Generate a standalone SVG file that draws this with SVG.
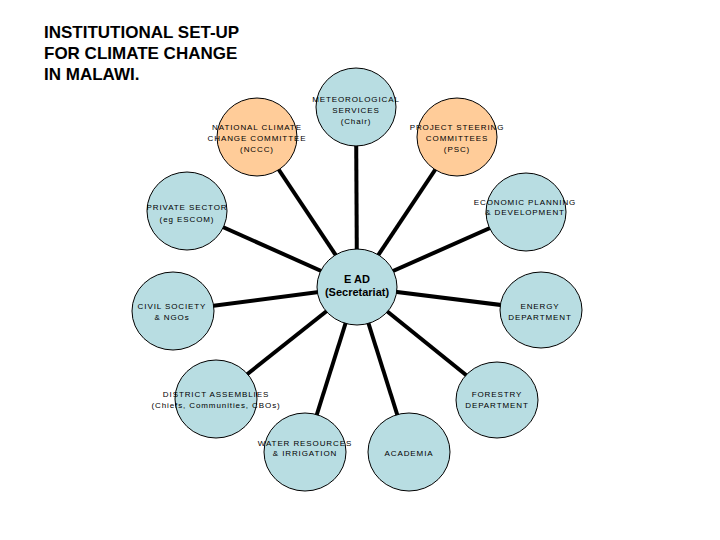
<svg xmlns="http://www.w3.org/2000/svg" width="720" height="540" viewBox="0 0 720 540">
<style>
.n{fill:#B8DDE2;stroke:#000;stroke-width:1}
.o{fill:#FFCC99;stroke:#000;stroke-width:1}
.t{font-family:"Liberation Sans",Arial,sans-serif;font-size:8px;letter-spacing:0.9px;text-anchor:middle;fill:#000}
.b{font-family:"Liberation Sans",Arial,sans-serif;font-weight:bold;font-size:11px;text-anchor:middle;fill:#000}
.h{font-family:"Liberation Sans",Arial,sans-serif;font-weight:bold;font-size:17px;fill:#000}
.c{stroke:#000;stroke-width:4;fill:none}
</style>
<rect width="720" height="540" fill="#fff"/>
<g id="title">
<text class="h" x="44" y="38">INSTITUTIONAL SET-UP</text>
<text class="h" x="44" y="59">FOR CLIMATE CHANGE</text>
<text class="h" x="44" y="80">IN MALAWI.</text>
</g>
<g id="connectors">
<line class="c" x1="357" y1="287" x2="356" y2="107"/>
<line class="c" x1="357" y1="287" x2="257" y2="137"/>
<line class="c" x1="357" y1="287" x2="457" y2="137"/>
<line class="c" x1="357" y1="287" x2="187" y2="211"/>
<line class="c" x1="357" y1="287" x2="526" y2="212"/>
<line class="c" x1="357" y1="287" x2="173" y2="311"/>
<line class="c" x1="357" y1="287" x2="541" y2="310"/>
<line class="c" x1="357" y1="287" x2="216" y2="399"/>
<line class="c" x1="357" y1="287" x2="497" y2="400"/>
<line class="c" x1="357" y1="287" x2="305" y2="452"/>
<line class="c" x1="357" y1="287" x2="409" y2="452"/>
</g>
<g id="met">
<ellipse class="n" cx="356" cy="107" rx="40" ry="39"/>
<text class="t" x="356" y="102">METEOROLOGICAL</text>
<text class="t" x="356" y="113">SERVICES</text>
<text class="t" x="356" y="124">(Chair)</text>
</g>
<g id="nccc">
<ellipse class="o" cx="257" cy="137" rx="40" ry="39"/>
<text class="t" x="257" y="130">NATIONAL CLIMATE</text>
<text class="t" x="257" y="141">CHANGE COMMITTEE</text>
<text class="t" x="257" y="152">(NCCC)</text>
</g>
<g id="psc">
<ellipse class="o" cx="457" cy="137" rx="40" ry="39"/>
<text class="t" x="457" y="130">PROJECT STEERING</text>
<text class="t" x="457" y="141">COMMITTEES</text>
<text class="t" x="457" y="152">(PSC)</text>
</g>
<g id="private">
<ellipse class="n" cx="187" cy="211" rx="40" ry="39"/>
<text class="t" x="187" y="210">PRIVATE SECTOR</text>
<text class="t" x="187" y="222">(eg ESCOM)</text>
</g>
<g id="econ">
<ellipse class="n" cx="526" cy="212" rx="40" ry="39"/>
<text class="t" x="525" y="205">ECONOMIC PLANNING</text>
<text class="t" x="525" y="215">&amp; DEVELOPMENT</text>
</g>
<g id="ead">
<ellipse class="n" cx="357" cy="287" rx="40" ry="38"/>
<text class="b" x="357" y="283">E AD</text>
<text class="b" x="357" y="296">(Secretariat)</text>
</g>
<g id="civil">
<ellipse class="n" cx="173" cy="311" rx="41" ry="39"/>
<text class="t" x="172" y="309">CIVIL SOCIETY</text>
<text class="t" x="172" y="320">&amp; NGOs</text>
</g>
<g id="energy">
<ellipse class="n" cx="541" cy="310" rx="41" ry="38"/>
<text class="t" x="540" y="309">ENERGY</text>
<text class="t" x="540" y="320">DEPARTMENT</text>
</g>
<g id="district">
<ellipse class="n" cx="216" cy="399" rx="41" ry="39"/>
<text class="t" x="216" y="397">DISTRICT ASSEMBLIES</text>
<text class="t" x="216" y="408">(Chiefs, Communities, CBOs)</text>
</g>
<g id="forestry">
<ellipse class="n" cx="497" cy="400" rx="41" ry="38"/>
<text class="t" x="497" y="397">FORESTRY</text>
<text class="t" x="497" y="408">DEPARTMENT</text>
</g>
<g id="water">
<ellipse class="n" cx="305" cy="452" rx="41" ry="39"/>
<text class="t" x="305" y="446">WATER RESOURCES</text>
<text class="t" x="305" y="456">&amp; IRRIGATION</text>
</g>
<g id="academia">
<ellipse class="n" cx="409" cy="452" rx="41" ry="39"/>
<text class="t" x="409" y="456">ACADEMIA</text>
</g>
</svg>
